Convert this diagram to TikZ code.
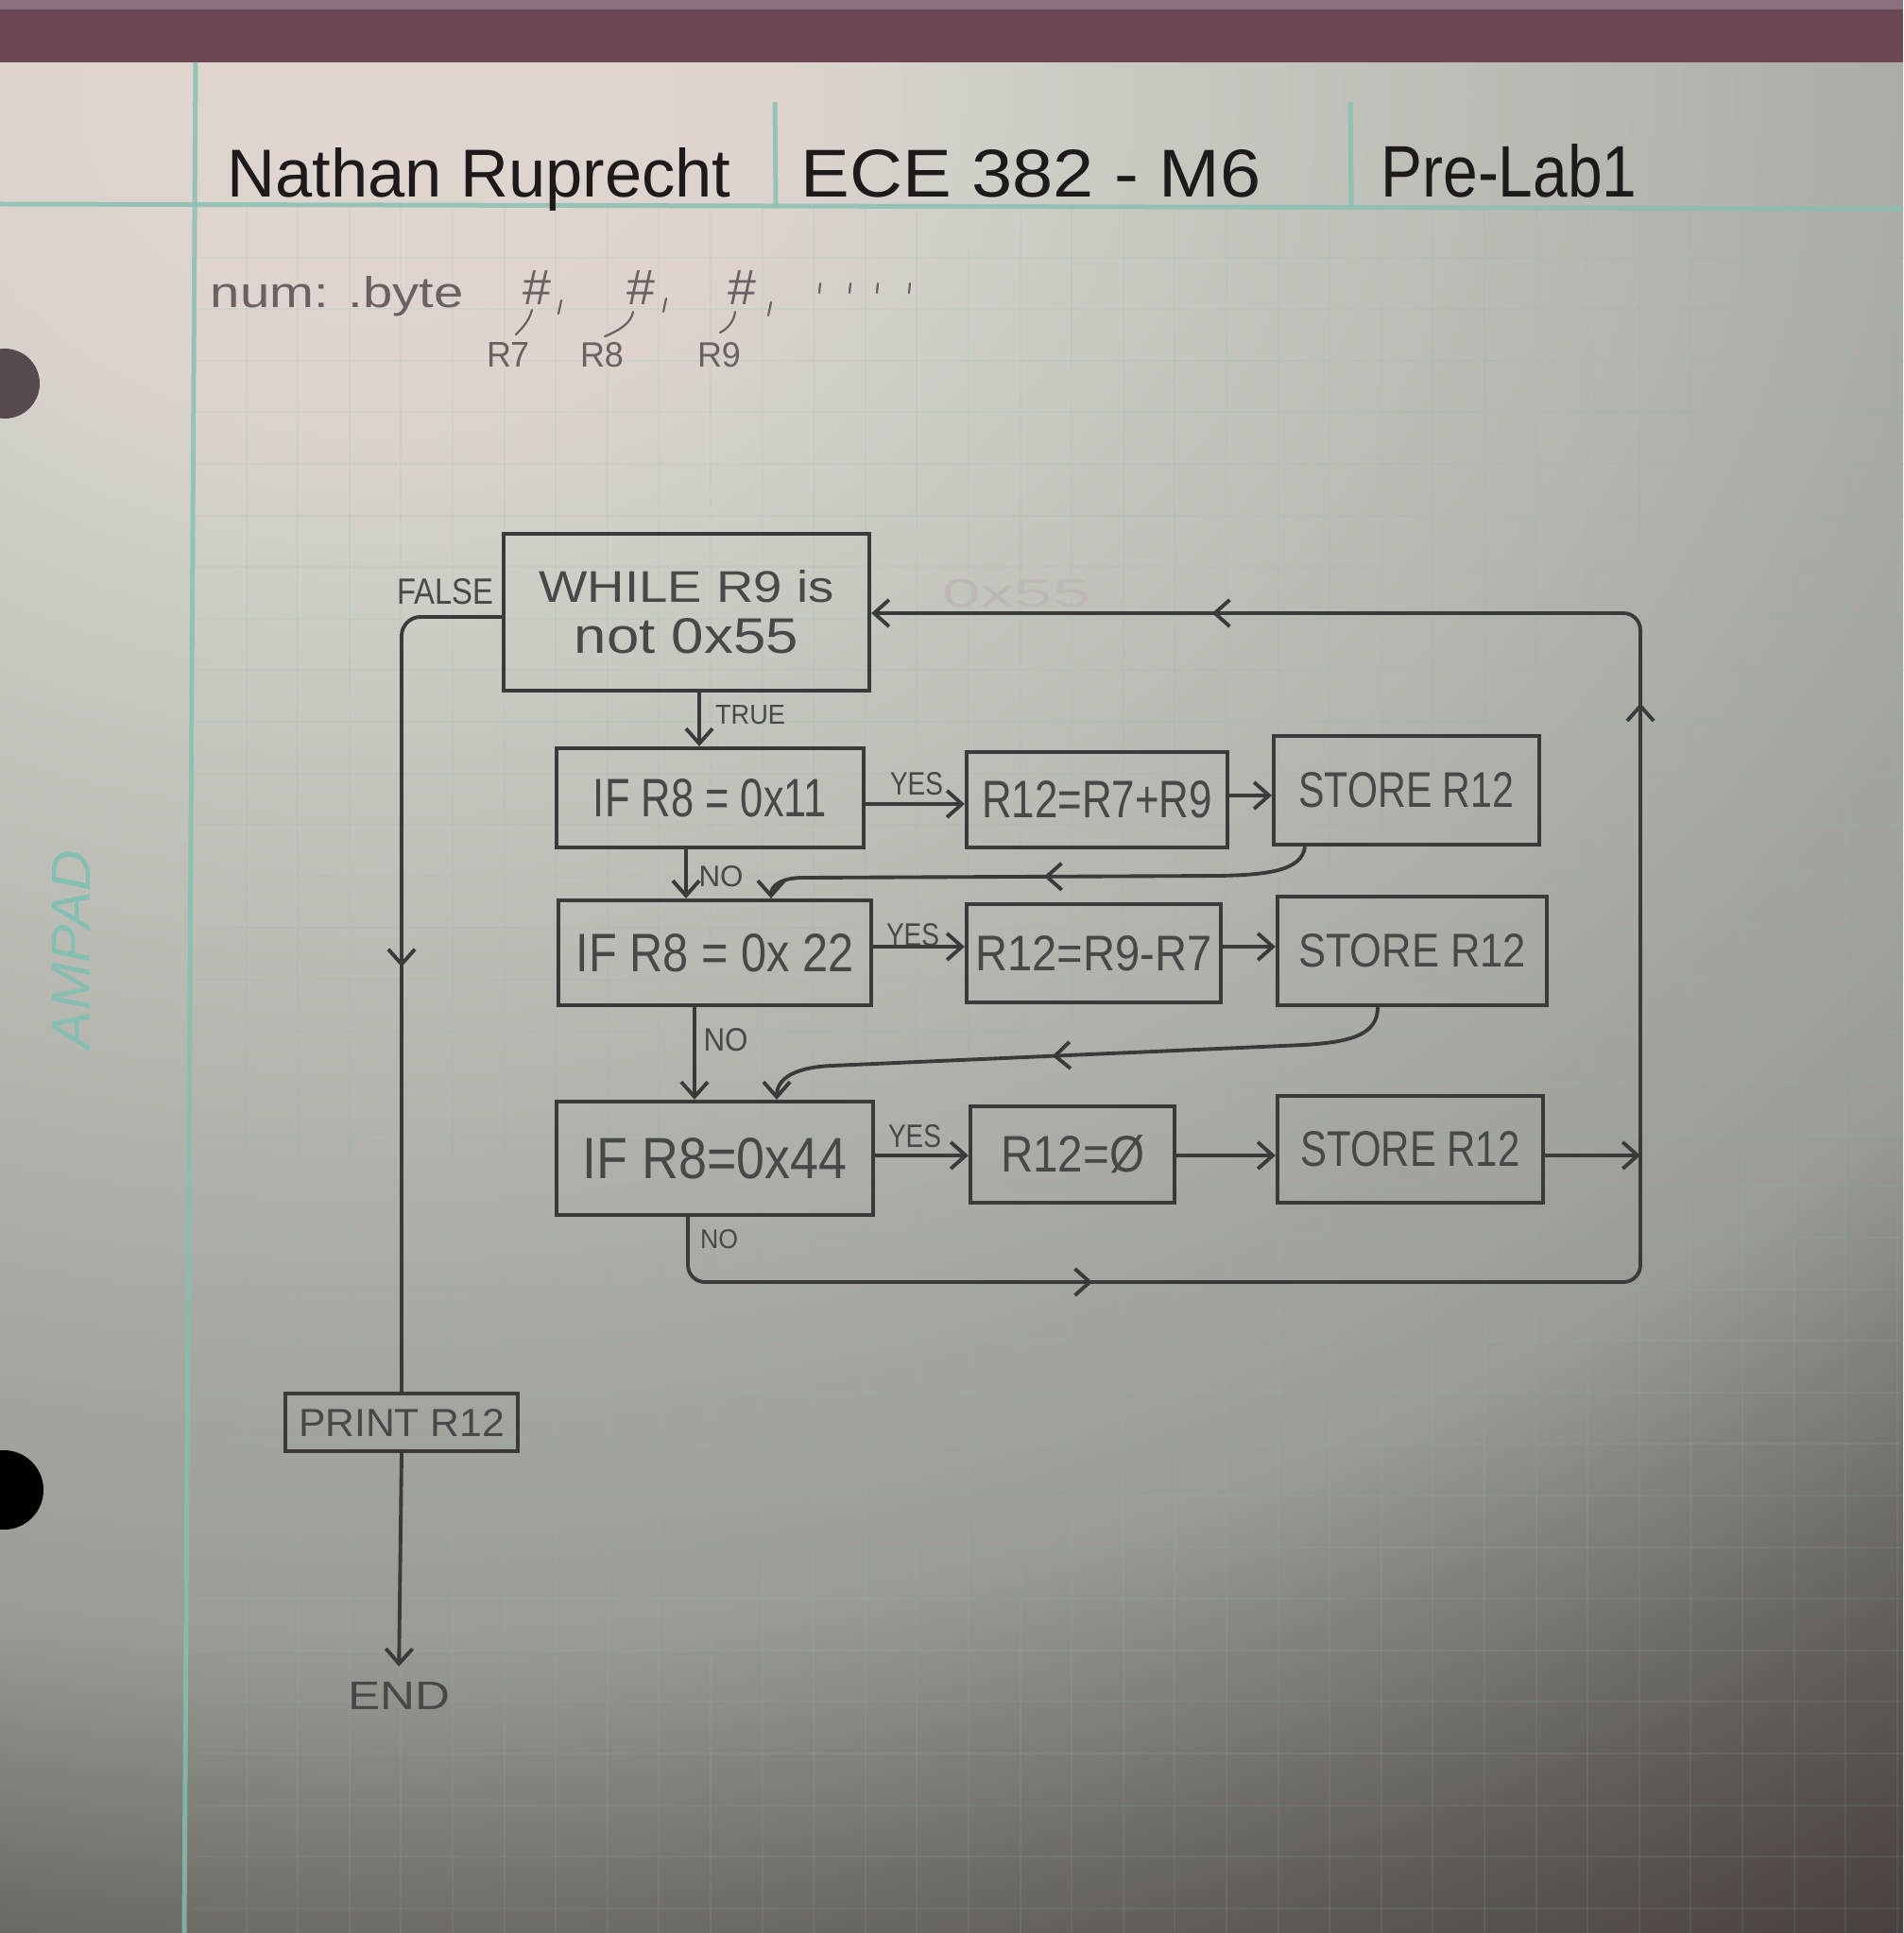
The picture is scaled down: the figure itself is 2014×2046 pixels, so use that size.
\documentclass[tikz,border=0pt]{standalone}
\usepackage{fontspec}
\setmainfont{Liberation Sans}
\usepackage{graphicx}
\usetikzlibrary{arrows.meta,decorations.markings,calc}
\newlength\px \setlength\px{0.01cm}
\newcommand\hw[3]{\resizebox{#1\px}{#2\px}{#3}}
\definecolor{pencil}{HTML}{3A3A3A}
\definecolor{boxtext}{HTML}{484848}
\definecolor{pen}{HTML}{1E1A1C}
\definecolor{lightpencil}{HTML}{6A6262}
\definecolor{rule}{HTML}{86BFB2}
\definecolor{band}{HTML}{6B4954}
\definecolor{bandtop}{HTML}{8C7080}
\definecolor{ghost}{HTML}{BDB8B4}
\definecolor{holeA}{HTML}{564A4E}
\definecolor{v0}{HTML}{E0D6D0}
\definecolor{v1}{HTML}{DED4CE}
\definecolor{v2}{HTML}{CBCDC5}
\definecolor{v3}{HTML}{ACAEA7}
\definecolor{v4}{HTML}{989C94}
\definecolor{v5}{HTML}{82827C}
\definecolor{v6}{HTML}{625D59}
\definecolor{v7}{HTML}{463E3C}
\pgfdeclareradialshading{vign}{\pgfpoint{0bp}{0bp}}{color(0bp)=(v0); color(4bp)=(v1); color(7bp)=(v2); color(15bp)=(v3); color(20.5bp)=(v4); color(22.5bp)=(v5); color(25.5bp)=(v6); color(29bp)=(v7); color(50bp)=(v7)}
\tikzset{
  pbox/.style={draw=pencil, line width=1.2pt, inner sep=0pt, text=boxtext, align=center},
  flow/.style={draw=pencil, line width=1.1pt},
  arr/.style={-{Straight Barb[length=4.5pt,width=8pt]}},
  lbl/.style={inner sep=0pt, text=boxtext},
  midarrow/.style={postaction={decorate}, decoration={markings, mark=at position #1 with {\arrow{Straight Barb[length=4.5pt,width=8pt]}}}},
}
\begin{document}
\begin{tikzpicture}[x=0.01cm,y=-0.01cm]
\useasboundingbox (0,0) rectangle (2014,2046);
% paper
\begin{scope}
  \clip (0,60) rectangle (2014,2046);
  \shade[shading=vign] (-2200,-1900) rectangle (3000,2100);
\end{scope}
\fill[band] (0,0) rectangle (2014,66);
\fill[bandtop] (0,0) rectangle (2014,10);
% grid
\begin{scope}[draw=rule, line width=2\px, opacity=0.12]
  \foreach \i in {1,...,33} {\draw ({206+54.6*\i},218) -- ++(0,1830);}
  \foreach \j in {1,...,34} {\draw (206,{218+54.6*\j}) -- ++(1810,0);}
\end{scope}
% rules
\draw[rule, line width=5\px, opacity=0.8] (207,66) -- (195,2046);
\draw[rule, line width=5\px, opacity=0.8] (0,216) -- (2014,221);
\draw[rule, line width=5\px, opacity=0.8] (820,108) -- (821,217);
\draw[rule, line width=5\px, opacity=0.8] (1429,108) -- (1430,219);
% holes
\fill[holeA] (5,406) circle (37);
\fill[black] (4,1577) circle (42);
% watermark
\node[rotate=90, text=rule, inner sep=0pt] (ampad) at (75,1005) {\hw{210}{40}{\itshape AMPAD}};
% header
\node[anchor=base, text=pen, inner sep=0pt] (name) at (507,209) {\hw{533}{52}{Nathan Ruprecht}};
\node[anchor=base, text=pen, inner sep=0pt] (course) at (1091,209) {\hw{487}{50}{ECE 382 - M6}};
\node[anchor=base, text=pen, inner sep=0pt] (lab) at (1597,209) {\hw{271}{56}{Pre-Lab1}};
% num line
\node[anchor=base west, text=lightpencil, inner sep=0pt] (num) at (222,326) {\hw{268}{33}{num: .byte}};
\node[text=lightpencil, inner sep=0pt] (h1) at (568,305) {\hw{30}{36}{\#}};
\node[text=lightpencil, inner sep=0pt] (h2) at (678,305) {\hw{30}{36}{\#}};
\node[text=lightpencil, inner sep=0pt] (h3) at (785,305) {\hw{30}{36}{\#}};
\begin{scope}[lightpencil, line width=2.2\px, line cap=round]
  \draw (594,318) -- (591,332);
  \draw (705,316) -- (702,330);
  \draw (816,320) -- (813,334);
  \draw (868,300) -- (867,310);
  \draw (900,300) -- (899,310);
  \draw (929,300) -- (928,310);
  \draw (963,300) -- (962,310);
  \draw (563,328) .. controls (560,340) and (552,348) .. (546,354);
  \draw (670,330) .. controls (668,342) and (655,350) .. (640,356);
  \draw (778,330) .. controls (777,340) and (770,348) .. (762,352);
\end{scope}
\node[text=lightpencil, inner sep=0pt] (r7) at (538,376) {\hw{46}{26}{R7}};
\node[text=lightpencil, inner sep=0pt] (r8) at (637,376) {\hw{46}{26}{R8}};
\node[text=lightpencil, inner sep=0pt] (r9) at (761,376) {\hw{46}{26}{R9}};
% ghost
\node[text=ghost, inner sep=0pt] (ghost) at (1076,628) {\hw{157}{29}{0x55}};
% boxes
\node[pbox, minimum width=387\px, minimum height=166\px] (while) at (726.5,648)
  {\hw{312}{34}{WHILE R9 is}\\[12\px]\hw{237}{37}{not 0x55}};
\node[pbox, minimum width=325\px, minimum height=105\px] (if1) at (751.5,844.5) {\hw{247}{40}{IF R8 = 0x11}};
\node[pbox, minimum width=276\px, minimum height=101\px] (a1) at (1161,846.5) {\hw{244}{39}{R12=R7+R9}};
\node[pbox, minimum width=281\px, minimum height=115\px] (s1) at (1488.5,836.5) {\hw{228}{37}{STORE R12}};
\node[pbox, minimum width=331\px, minimum height=111\px] (if2) at (756.5,1008.5) {\hw{294}{40}{IF R8 = 0x 22}};
\node[pbox, minimum width=269\px, minimum height=104\px] (a2) at (1157.5,1009) {\hw{250}{37}{R12=R9-R7}};
\node[pbox, minimum width=285\px, minimum height=115\px] (s2) at (1494.5,1006.5) {\hw{241}{35}{STORE R12}};
\node[pbox, minimum width=335\px, minimum height=120\px] (if3) at (756.5,1226) {\hw{280}{43}{IF R8=0x44}};
\node[pbox, minimum width=216\px, minimum height=102\px] (a3) at (1135,1222) {\hw{152}{39}{R12=Ø}};
\node[pbox, minimum width=281\px, minimum height=113\px] (s3) at (1492.5,1216.5) {\hw{232}{37}{STORE R12}};
\node[pbox, minimum width=246\px, minimum height=61\px] (print) at (425,1505.5) {\hw{218}{29}{PRINT R12}};
\node[lbl] (endn) at (422,1795) {\hw{108}{29}{END}};
% labels
\node[lbl] (lfalse) at (471,626) {\hw{102}{27}{FALSE}};
\node[lbl] (ltrue) at (794,757) {\hw{74}{20}{TRUE}};
\node[lbl] (lyes1) at (970,830) {\hw{56}{24}{YES}};
\node[lbl] (lno1) at (763,928) {\hw{47}{22}{NO}};
\node[lbl] (lyes2) at (966,990) {\hw{56}{24}{YES}};
\node[lbl] (lno2) at (768,1101) {\hw{47}{24}{NO}};
\node[lbl] (lyes3) at (968,1203) {\hw{56}{24}{YES}};
\node[lbl] (lno3) at (761,1312) {\hw{40}{20}{NO}};
\coordinate (join) at (1736,1223);
% connectors
\draw[flow, rounded corners=20\px, midarrow=0.51] ($(while.west)+(0,5)$) -| (print.north);
\draw[flow, arr, shorten >=16\px] (print.south) -- (endn.north);
\draw[flow, arr] ($(while.south)+(13.5,0)$) -- ($(if1.north)+(-11.5,0)$);
\draw[flow, arr] ($(if1.east)+(0,6.5)$) -- ($(a1.west)+(0,4.5)$);
\draw[flow, arr] ($(a1.east)+(0,-4.5)$) -- ($(s1.west)+(0,5.5)$);
\draw[flow, arr] ($(if1.south)+(-25.5,0)$) -- ($(if2.north)+(-30.5,0)$);
\draw[flow, arr, midarrow=0.49] ($(s1.south)+(-107.5,0)$) .. controls (1378,922) and (1340,926) .. (1290,927) -- (850,929) .. controls (826,929) and (816,938) .. ($(if2.north)+(59.5,0)$);
\draw[flow, arr] ($(if2.east)+(0,-6.5)$) -- ($(a2.west)+(0,-7)$);
\draw[flow, arr] ($(a2.east)+(0,-7)$) -- ($(s2.west)+(0,-4.5)$);
\draw[flow, arr] ($(if2.south)+(-21.5,0)$) -- ($(if3.north)+(-21.5,0)$);
\draw[flow, arr, midarrow=0.54] ($(s2.south)+(-36.5,0)$) .. controls (1458,1095) and (1430,1103) .. (1380,1106) -- (880,1128) .. controls (835,1130) and (822,1145) .. ($(if3.north)+(65.5,0)$);
\draw[flow, arr] ($(if3.east)+(0,-3)$) -- ($(a3.west)+(0,1)$);
\draw[flow, arr] ($(a3.east)+(0,1)$) -- ($(s3.west)+(0,6.5)$);
\draw[flow, arr] ($(s3.east)+(0,6.5)$) -- (join);
\draw[flow, arr, rounded corners=18\px, postaction={decorate}, decoration={markings,
    mark=at position 0.19 with {\arrow{Straight Barb[length=4.5pt,width=8pt]}},
    mark=at position 0.65 with {\arrow{Straight Barb[length=4.5pt,width=8pt]}},
    mark=at position 0.86 with {\arrow{Straight Barb[length=4.5pt,width=8pt]}}}]
  ($(if3.south)+(-28.5,0)$) -- (728,1357) -- (1736,1357) -- (1736,649) -- ($(while.east)+(0,1)$);
\end{tikzpicture}
\end{document}
